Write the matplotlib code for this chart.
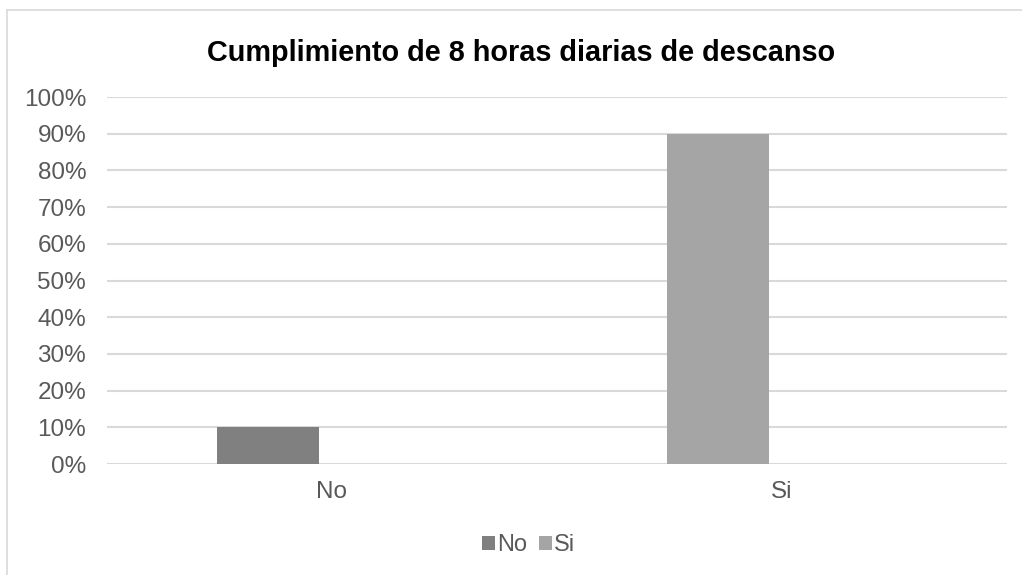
import matplotlib
matplotlib.use("Agg")
import matplotlib.pyplot as plt
import numpy as np
from matplotlib.lines import Line2D
from matplotlib.ticker import PercentFormatter

categories = ["No", "Si"]
serie_no = [0.10, 0.0]
serie_si = [0.0, 0.90]
series_names = ["No", "Si"]
yticks = [0, 0.1, 0.2, 0.3, 0.4, 0.5, 0.6, 0.7, 0.8, 0.9, 1.0]
title = "Cumplimiento de 8 horas diarias de descanso"

plt.rcParams['font.family'] = ['Liberation Sans', 'DejaVu Sans']

fig = plt.figure(figsize=(10.22, 5.75), dpi=100)
ax = fig.add_axes([0.1047, 0.193, 0.8806, 0.6383])

x = np.arange(len(categories))
width = 0.227
offset = -0.142
ax.bar(x + offset, serie_no, width, color="#808080", label=series_names[0], zorder=3)
ax.bar(x + offset, serie_si, width, color="#a5a5a5", label=series_names[1], zorder=3)

ax.set_xlim(-0.5, 1.5)
ax.set_ylim(0, 1.0)
ax.set_yticks(yticks)
ax.yaxis.set_major_formatter(PercentFormatter(1.0, decimals=0))
ax.set_xticks(x)
ax.set_xticklabels(categories)
ax.grid(axis="y", color="#d9d9d9", linewidth=1.5, zorder=0)
for s in ax.spines.values():
    s.set_visible(False)
ax.tick_params(axis="both", length=0, labelsize=17.5, labelcolor="#595959")
ax.tick_params(axis="y", pad=15)
ax.tick_params(axis="x", pad=12)
ax.set_axisbelow(True)

fig.text(0.51, 0.908, title, ha="center", va="center", fontsize=20.8,
         fontweight="bold", color="#000000")

leg = fig.legend(loc="center", bbox_to_anchor=(0.517, 0.052), ncol=2, frameon=False,
                 fontsize=17, handlelength=0.55, handleheight=0.55, handletextpad=0.1,
                 columnspacing=0.5, labelcolor="#595959")

fig.add_artist(Line2D([7/1022, 7/1022], [0, 1 - 10/575], transform=fig.transFigure,
                      color="#d9d9d9", linewidth=1.2))
fig.add_artist(Line2D([7/1022, 1.0], [1 - 10/575, 1 - 10/575], transform=fig.transFigure,
                      color="#d9d9d9", linewidth=1.2))

fig.savefig("out.png", dpi=100, facecolor="white")
